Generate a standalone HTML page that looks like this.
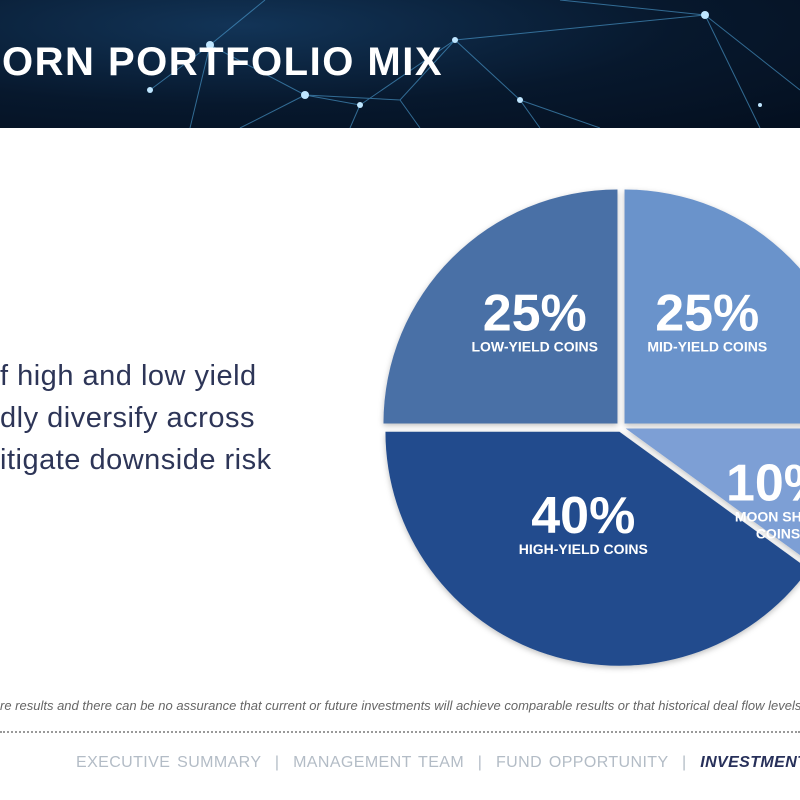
<!DOCTYPE html>
<html><head><meta charset="utf-8"><style>
html,body{margin:0;padding:0;width:800px;height:800px;overflow:hidden;background:#fff;font-family:"Liberation Sans",sans-serif}
#frame{position:absolute;left:0;top:0;width:800px;height:800px;overflow:hidden}
#hdr{position:absolute;left:0;top:0;width:800px;height:128px;background:radial-gradient(ellipse at 30% 20%,#123457 0%,#07182d 55%,#040f1f 100%);overflow:hidden}
#title{position:absolute;left:2px;top:40px;color:#fff;font-size:40px;font-weight:bold;letter-spacing:1.5px;margin:0}
.body-text{position:absolute;left:0;color:#2d3557;font-size:29px;white-space:nowrap;letter-spacing:.5px}
#disc{position:absolute;left:0;top:698px;width:800px;overflow:hidden;font-size:13px;font-style:italic;color:#666;white-space:nowrap}
#dots{position:absolute;left:0;top:731px;width:800px;border-top:2px dotted #999}
#nav{position:absolute;left:76px;top:754px;width:724px;overflow:hidden;font-size:16px;color:#b3bcc6;white-space:nowrap;letter-spacing:.4px;word-spacing:2px}
#nav b{color:#27305a;font-style:italic}
</style></head><body>
<div id="frame">
<div id="hdr">
<svg width="800" height="128">
<g stroke="#4fa3d8" stroke-width="1" opacity=".6" fill="none">
<path d="M210 45 L305 95 L360 105 L455 40 L705 15 L800 90"/>
<path d="M150 90 L210 45 L265 0 M305 95 L400 100 L455 40 M360 105 L350 128 M400 100 L420 128 M455 40 L520 100 L540 128 M705 15 L760 128 M705 15 L560 0 M210 45 L190 128 M520 100 L600 128 M305 95 L240 128"/>
</g>
<g fill="#bfe6ff"><circle cx="210" cy="45" r="4"/><circle cx="305" cy="95" r="4"/><circle cx="360" cy="105" r="3"/><circle cx="455" cy="40" r="3"/><circle cx="705" cy="15" r="4"/><circle cx="150" cy="90" r="3"/><circle cx="520" cy="100" r="3"/><circle cx="760" cy="105" r="2"/></g>
</svg>
<h1 id="title">ORN PORTFOLIO MIX</h1>
</div>
<div class="body-text" style="top:360px">f high and low yield</div>
<div class="body-text" style="top:402px">dly diversify across</div>
<div class="body-text" style="top:444px">itigate downside risk</div>

<svg id="pie" width="800" height="800" style="position:absolute;left:0;top:0">
<defs><filter id="sh" x="-10%" y="-10%" width="120%" height="120%"><feDropShadow dx="0" dy="2" stdDeviation="3" flood-color="#000" flood-opacity=".25"/></filter></defs>
<g id="slices"></g><g id="labels"></g>
</svg>

<div id="disc">re results and there can be no assurance that current or future investments will achieve comparable results or that historical deal flow levels w</div>
<div id="dots"></div>
<div id="nav"><span>EXECUTIVE SUMMARY</span> &nbsp;| &nbsp;<span>MANAGEMENT TEAM</span> &nbsp;| &nbsp;<span>FUND OPPORTUNITY</span> &nbsp;| &nbsp;<b>INVESTMENT STRATEGY</b></div>
</div>

<script>
const categories = ["MID-YIELD COINS","MOON SHOT COINS","HIGH-YIELD COINS","LOW-YIELD COINS"];
const values = [25, 10, 40, 25];
const valueLabels = ["25%","10%","40%","25%"];
const colors = ["#6b93cb","#7d9fd5","#234c8d","#4a6fa6"];
const cx = 621, cy = 427, R = 234, explode = 5;
const NS = "http://www.w3.org/2000/svg";
const total = values.reduce((a,b)=>a+b,0);
function pt(a, r, ox, oy){ return [ox + r*Math.sin(a), oy - r*Math.cos(a)]; }
const gS = document.getElementById('slices'), gL = document.getElementById('labels');
let a0 = 0;
values.forEach((v,i)=>{
  const a1 = a0 + v/total*2*Math.PI, mid = (a0+a1)/2;
  const ox = cx + explode*Math.sin(mid), oy = cy - explode*Math.cos(mid);
  const p0 = pt(a0,R,ox,oy), p1 = pt(a1,R,ox,oy);
  const large = (a1-a0) > Math.PI ? 1 : 0;
  const path = document.createElementNS(NS,'path');
  path.setAttribute('d',`M${ox},${oy} L${p0[0]},${p0[1]} A${R},${R} 0 ${large} 1 ${p1[0]},${p1[1]} Z`);
  path.setAttribute('fill',colors[i]);
  path.setAttribute('filter','url(#sh)');
  
  
  gS.appendChild(path);
  const lr = v < 15 ? 0.72*R : 0.5*R;
  const lp = pt(mid, lr, ox, oy);
  const by = v < 15 ? lp[1]+20 : lp[1]-10;
  const lx = lp[0] + (v < 15 ? -8 : 0);
  const t1 = document.createElementNS(NS,'text');
  t1.setAttribute('x',lx); t1.setAttribute('y',by);
  t1.setAttribute('text-anchor','middle'); t1.setAttribute('fill','#fff');
  t1.setAttribute('font-size','52'); t1.setAttribute('font-weight','bold');
  t1.setAttribute('font-family','Liberation Sans, sans-serif');
  t1.textContent = valueLabels[i];
  
  
  gL.appendChild(t1);
  const words = v < 15 ? [categories[i].split(' ').slice(0,2).join(' '), categories[i].split(' ').slice(2).join(' ')] : [categories[i]];
  words.forEach((w,k)=>{
    const t2 = document.createElementNS(NS,'text');
    t2.setAttribute('x',lx); t2.setAttribute('y',by+21+k*17);
    t2.setAttribute('text-anchor','middle'); t2.setAttribute('fill','#fff');
    t2.setAttribute('font-size','14'); t2.setAttribute('font-weight','bold');
    t2.setAttribute('font-family','Liberation Sans, sans-serif');
    t2.textContent = w;
    
    
    gL.appendChild(t2);
  });
  a0 = a1;
});
</script>
</body></html>
